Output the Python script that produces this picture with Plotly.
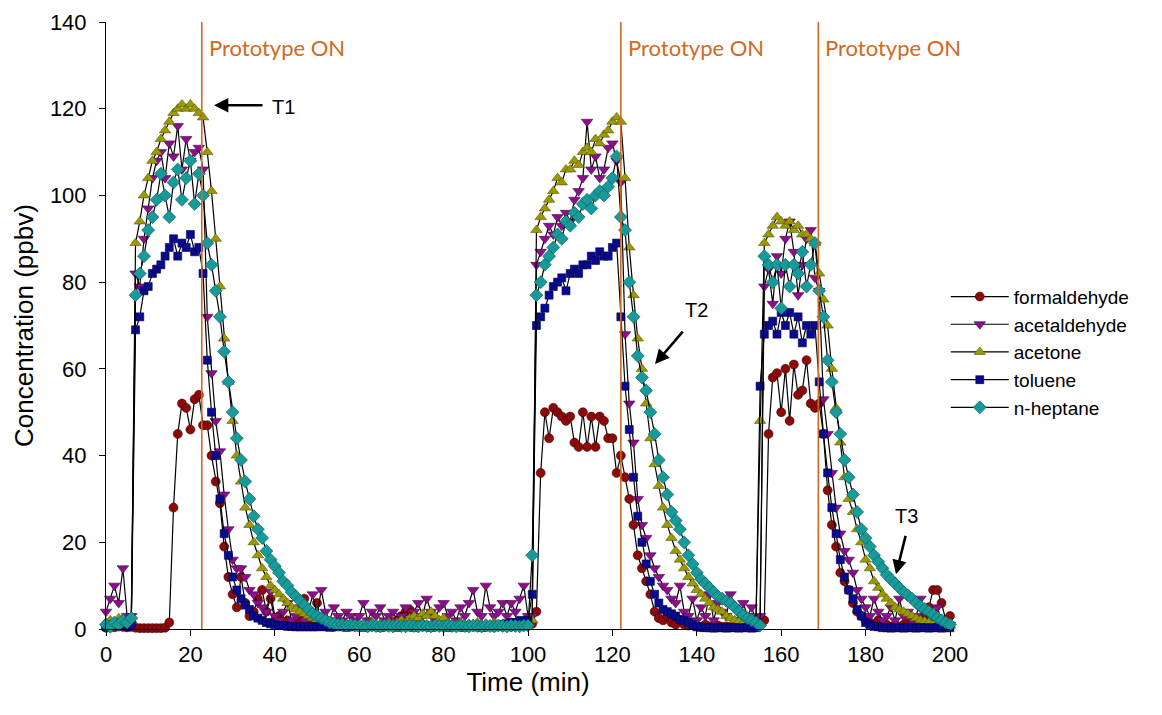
import plotly.graph_objects as go

# sampling time, one reading per minute
TIME_MIN = list(range(0, 201))

FORMALDEHYDE = [
    0.3, 0.5, 0.4, 0.6, 0.5, 0.4, 0.5, 0.3, 0.2, 0.2,
    0.2, 0.2, 0.2, 0.2, 0.3, 1.5, 28, 45, 52, 51,
    46, 53, 54, 47, 47, 40, 34, 29, 19, 12,
    8, 5, 12, 6, 3, 4, 7, 9, 4, 7,
    2, 3, 1.5, 2, 1, 1.5, 2, 7, 2, 1,
    6, 1, 1.5, 1, 0.5, 1, 0.8, 0.5, 1, 0.6,
    0.5, 0.8, 0.5, 1, 0.6, 0.5, 0.8, 1, 1.5, 2,
    3, 4, 4.4, 3, 2, 1, 0.8, 0.5, 1, 0.6,
    0.5, 0.8, 0.5, 0.6, 0.5, 0.8, 0.5, 0.6, 0.5, 0.8,
    0.5, 0.6, 0.5, 0.8, 0.5, 0.6, 0.5, 0.8, 1, 0.8,
    1, 1.2, 4, 36, 50, 44, 51, 50, 49, 48,
    49, 43, 42, 50, 42, 49, 42, 49, 48, 44,
    44, 36, 40, 35, 30, 24, 17, 14, 11, 8,
    4, 2.5, 2, 3, 1.5, 1, 2, 1, 0.8, 1.2,
    0.8, 0.5, 1, 0.6, 0.5, 0.8, 0.5, 0.6, 0.5, 0.8,
    0.6, 0.5, 0.8, 0.6, 0.5, 1, 2, 45, 58, 59,
    50, 60, 48, 61, 54, 55, 62, 52, 51, 52,
    45, 32, 24, 19, 13, 11, 9, 6, 4, 3,
    2, 1.5, 1, 2, 1, 1, 0.5, 1, 0.5, 1,
    1.5, 1, 2, 1, 3, 5, 9, 9, 6, 2,
    3,
]

ACETALDEHYDE = [
    4, 7, 10, 6, 14, 3, 3, 82, 79, 90,
    97, 104, 108, 110, 104, 112, 109, 116, 106, 113,
    108, 110, 111, 106, 72, 59, 48, 41, 31, 23,
    16, 14, 14, 12, 9, 8, 6, 5, 4, 8.6,
    3, 2, 4, 6, 2, 3, 5, 2, 4, 8,
    3, 9, 4, 2, 5, 3, 2, 4, 3, 2,
    3, 6, 2, 4, 3, 5, 2, 3, 4, 2,
    3, 5, 2, 4, 6, 3, 7, 4, 2, 5,
    6, 3, 4, 2, 5, 3, 6, 9, 4, 3,
    10, 5, 3, 4, 6, 3, 6, 4, 7, 10,
    3, 3, 84, 87, 90, 93, 91, 95, 93, 96,
    94, 99, 101, 104, 117, 106, 109, 104, 106, 111,
    112, 108, 103, 68, 52, 43, 30, 24, 21, 17,
    14, 12, 10, 9, 7, 6, 10, 4, 3, 7,
    2, 5, 3, 8, 2, 6, 4, 3, 8, 5,
    2, 6, 3, 5, 2, 3, 79, 83, 75, 86,
    82, 90, 94, 87, 77, 84, 90, 92, 81, 78,
    53, 45, 36, 28, 22, 18, 16, 13, 9, 7,
    5, 3, 7, 4, 2, 3, 5, 2, 7, 3,
    4, 2, 3, 7, 4, 2, 3, 5, 2, 1,
    1,
]

ACETONE = [
    1.5, 2, 1, 2.5, 2, 1.5, 2, 89, 94, 100,
    104, 108, 110, 113, 115, 117, 119, 120, 121, 120,
    121, 120, 119, 118, 110, 101, 90, 79, 67, 57,
    48, 40, 34, 28, 24, 20, 17, 14, 12, 10,
    9, 8, 7, 6, 5, 4.5, 4, 3.5, 3, 2.5,
    2, 2, 1.8, 1.5, 1.5, 1.2, 1.5, 1, 1.2, 1,
    1, 1.2, 1, 1.5, 1, 1.2, 1, 1.5, 1.2, 1.5,
    2, 1.5, 2.5, 3, 2.5, 3.5, 3, 4, 3, 2,
    2.5, 1.5, 1.2, 1, 1.5, 1, 1.2, 1, 1.5, 1,
    1.2, 1, 1.5, 1, 1.2, 1, 1.5, 1.2, 1.5, 1.8,
    1.5, 2, 92, 95, 97, 99, 101, 104, 103, 106,
    106, 108, 107, 110, 111, 110, 113, 112, 114, 115,
    117, 118, 117, 104, 88, 77, 67, 60, 52, 44,
    38, 33, 28, 24, 21, 18, 16, 14, 12, 10.5,
    9, 8, 7, 6, 5, 4.5, 4, 3, 2.5, 2,
    1.8, 1.5, 1.2, 1, 1, 48, 89, 91, 93, 95,
    94, 93, 94, 92, 93, 91, 91, 90, 89, 82,
    76, 70, 60, 51, 43, 35, 30, 27, 23, 20,
    16, 14, 11, 9.5, 8, 7, 6, 5, 4.5, 4,
    3.5, 3, 2.5, 2, 1.8, 1.5, 1.2, 1, 1, 0.8,
    0.8,
]

TOLUENE = [
    0.5, 1, 0.8, 1.5, 1, 0.5, 1, 69, 72, 78,
    79, 82, 83, 84, 86, 88, 90, 86, 89, 88,
    91, 87, 88, 82, 62, 50, 40, 30, 22, 17,
    12, 9, 7, 5.5, 4.5, 3, 2.5, 2, 1.5, 1.2,
    1, 0.8, 0.8, 0.6, 0.6, 0.5, 0.5, 0.5, 0.5, 0.5,
    0.5, 0.6, 0.5, 0.4, 0.5, 0.6, 0.5, 0.4, 0.5, 0.6,
    0.5, 0.4, 0.5, 0.6, 0.5, 0.4, 0.5, 0.6, 0.5, 0.4,
    0.5, 0.6, 0.5, 0.4, 0.5, 0.6, 0.5, 0.4, 0.5, 0.6,
    0.5, 0.4, 0.5, 0.6, 0.5, 0.4, 0.5, 0.6, 0.5, 0.4,
    0.5, 0.6, 0.5, 0.8, 1, 1.2, 1.5, 1.5, 2, 1.8,
    2, 8, 70, 72, 74, 77, 79, 80, 81, 78,
    82, 83, 82, 84, 84, 86, 85, 87, 86, 86,
    88, 89, 72, 56, 46, 35, 26, 20, 15, 11,
    8, 6, 4.5, 4, 3.5, 3, 2.2, 2, 1.5, 1,
    0.5, 0.4, 0.3, 0.3, 0.2, 0.3, 0.3, 0.2, 0.3, 0.3,
    0.2, 0.3, 0.3, 0.2, 0.3, 56, 68, 70, 71, 68,
    73, 70, 73, 68, 72, 66, 70, 68, 70, 57,
    45, 36, 28, 22, 16, 12, 9, 7, 4.5, 3,
    1.5, 1, 0.6, 0.5, 0.3, 0.3, 0.2, 0.3, 0.3, 0.2,
    0.3, 0.3, 0.2, 0.3, 0.3, 0.2, 0.3, 0.3, 0.2, 0.3,
    0.3,
]

N_HEPTANE = [
    1, 0.5, 1.5, 1, 2, 1.5, 2.5, 77, 82, 86,
    92, 95, 99, 105, 100, 95, 103, 106, 99, 104,
    108, 98, 105, 100, 89, 84, 78, 72, 64, 57,
    50, 44, 39, 34, 30, 26, 23, 21, 18, 16,
    14.5, 13, 11, 10, 8.5, 7.5, 6.5, 5.5, 4.5, 3.5,
    3, 2.5, 2, 1.5, 1.2, 1, 1, 0.8, 1, 0.8,
    0.7, 0.8, 0.6, 0.8, 0.7, 0.6, 0.8, 0.7, 0.6, 0.8,
    0.7, 0.6, 0.8, 0.7, 0.6, 0.8, 0.7, 0.6, 0.8, 0.7,
    0.6, 0.8, 0.7, 0.6, 0.8, 0.7, 0.6, 0.8, 0.7, 0.6,
    0.8, 0.7, 0.6, 0.8, 0.7, 0.6, 0.8, 0.7, 0.6, 0.8,
    0.8, 17, 77, 80, 84, 86, 88, 91, 90, 94,
    93, 96, 95, 98, 99, 97, 100, 101, 100, 102,
    104, 109, 95, 92, 80, 72, 63, 58, 55, 50,
    45, 39, 35, 31, 27, 25, 23, 20, 17, 15,
    13, 11.5, 10.5, 9.5, 8.5, 7.5, 7, 6.5, 6, 5,
    4, 3.2, 2.5, 2, 1.5, 0.8, 86, 84, 80, 84,
    74, 84, 79, 84, 82, 87, 79, 84, 89, 78,
    72, 62, 57, 50, 45, 39, 35, 31, 27, 23,
    21, 19, 17, 15.5, 14, 12.5, 11.5, 10.5, 9.5, 8.5,
    7.8, 7, 6, 5.2, 4.6, 4, 3.3, 2.6, 2, 1.5,
    1,
]

PROTOTYPE_ON_MIN = [22.7, 122.0, 168.8]
PROTOTYPE_LABEL = "Prototype ON"

# name, values, symbol, fill, edge, size
SERIES = [
    ("formaldehyde", FORMALDEHYDE, "circle", "#8B0A0A", "#4A0000", 9),
    ("acetaldehyde", ACETALDEHYDE, "triangle-down", "#8A108A", "#4A004A", 10),
    ("acetone", ACETONE, "triangle-up", "#9A9A00", "#555500", 10),
    ("toluene", TOLUENE, "square", "#0A0A8C", "#000050", 8),
    ("n-heptane", N_HEPTANE, "diamond", "#169A9A", "#0A5555", 10),
]

ORANGE = "#CF6A24"
AXIS_FONT = "Liberation Sans, Arial, sans-serif"

fig = go.Figure()
for name, values, symbol, fill, edge, size in SERIES:
    assert len(values) == len(TIME_MIN), name
    fig.add_trace(go.Scatter(
        x=TIME_MIN,
        y=values,
        name=name,
        mode="lines+markers",
        line=dict(color="black", width=1.2),
        marker=dict(symbol=symbol, color=fill, size=size, line=dict(color=edge, width=0.6)),
        cliponaxis=False,
    ))

for t_on in PROTOTYPE_ON_MIN:
    fig.add_shape(type="line", xref="x", yref="y", x0=t_on, x1=t_on, y0=0, y1=140,
                  line=dict(color=ORANGE, width=1.6))
    fig.add_annotation(x=t_on, y=134.2, xref="x", yref="y", text=PROTOTYPE_LABEL,
                       showarrow=False, xanchor="left", yanchor="middle", xshift=5,
                       font=dict(family="Lato, Noto Sans, sans-serif", size=22, color=ORANGE))

# arrows pointing at the decay curves
arrows = [
    ("T1", 25.6, 120.8, 50, 0, 42.0, 120.3),
    ("T2", 130.1, 61.1, 29, -34, 140.0, 73.6),
    ("T3", 187.2, 12.6, 10, -40, 189.8, 26.1),
]
for label, hx, hy, ax, ay, tx, ty in arrows:
    fig.add_annotation(x=hx, y=hy, xref="x", yref="y", ax=ax, ay=ay, text="",
                       showarrow=True, arrowhead=2, arrowsize=1.1, arrowwidth=2.6,
                       arrowcolor="black")
    fig.add_annotation(x=tx, y=ty, xref="x", yref="y", text=label, showarrow=False,
                       font=dict(family=AXIS_FONT, size=20, color="black"))

# the page adds an 8 px body margin, so the figure is a little smaller
fig.update_layout(
    width=1154,
    height=707,
    margin=dict(l=98, r=212, t=14, b=86),
    paper_bgcolor="white",
    plot_bgcolor="white",
    font=dict(family=AXIS_FONT, color="black"),
    showlegend=True,
    legend=dict(
        x=0.995, xanchor="left", y=0.456, yanchor="middle",
        font=dict(family=AXIS_FONT, size=19, color="black"),
        itemwidth=58, bgcolor="rgba(0,0,0,0)", tracegroupgap=0,
    ),
)
fig.update_xaxes(
    range=[0, 200], tickmode="linear", tick0=0, dtick=20,
    showline=True, linecolor="black", linewidth=1, showgrid=False, zeroline=False,
    ticks="outside", ticklen=6, tickcolor="black",
    tickfont=dict(size=22), ticklabelstandoff=0,
    title=dict(text="Time (min)", font=dict(size=26), standoff=0),
    automargin=False,
)
fig.update_yaxes(
    range=[0, 140], tickmode="linear", tick0=0, dtick=20,
    showline=True, linecolor="black", linewidth=1, showgrid=False, zeroline=False,
    ticks="outside", ticklen=6, tickcolor="black",
    tickfont=dict(size=22), ticklabelstandoff=8,
    title=dict(text="Concentration (ppbv)", font=dict(size=26), standoff=8),
    automargin=False,
)

fig.write_html("out.html")
